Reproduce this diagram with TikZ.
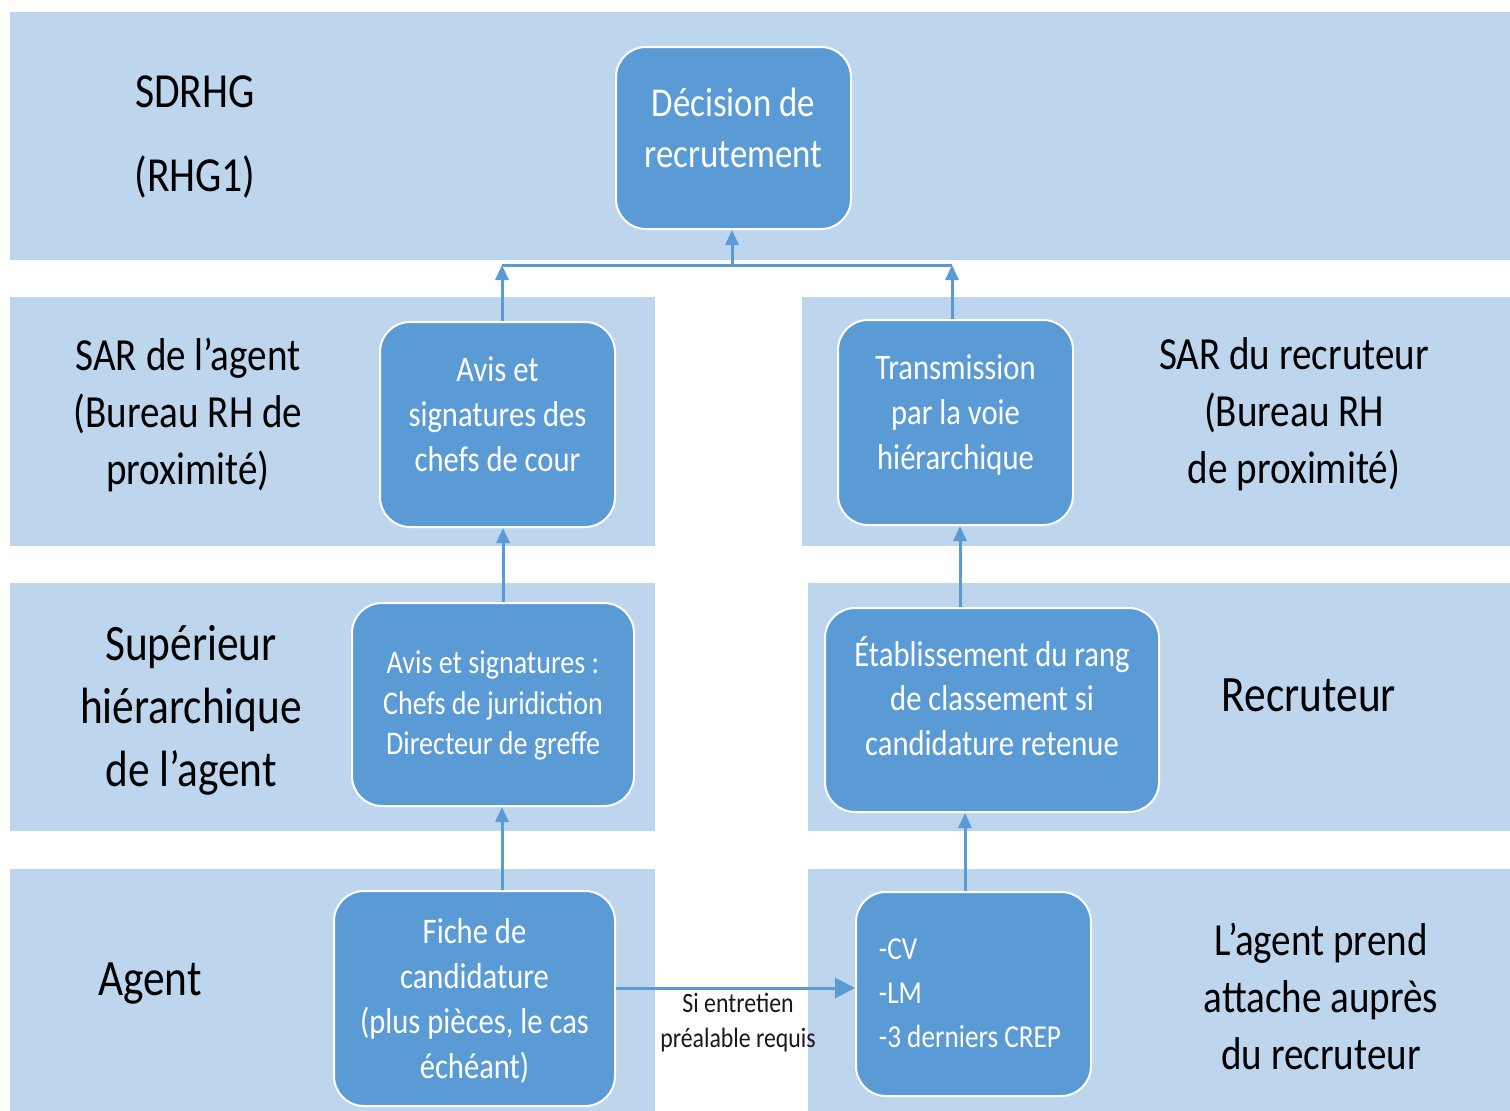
\documentclass[tikz,border=0pt]{standalone}
\usepackage{fontspec}
\setmainfont[FakeStretch=0.85]{Carlito}
\usetikzlibrary{arrows.meta}
\definecolor{band}{RGB}{189,214,238}
\definecolor{boxc}{RGB}{91,155,213}
\tikzset{
  bandrect/.style={fill=band, draw=none},
  box/.style={fill=boxc, draw=white, line width=2pt, rounded corners=30pt, inner sep=0pt},
  boxtxt/.style={text=white, align=center, inner sep=0pt},
  lab/.style={text=black, align=center, inner sep=0pt},
  conn/.style={draw=boxc, line width=3pt},
  arr/.style={conn, -{Triangle[length=15pt,width=13pt]}},
  bigarr/.style={conn, -{Triangle[length=20pt,width=20pt]}},
}
\newcommand{\fntbig}{\fontsize{46}{57}\selectfont}
\newcommand{\fnthuge}{\fontsize{51}{63}\selectfont}
\newcommand{\fntbox}{\fontsize{36}{45}\selectfont}
\newcommand{\fntdec}{\fontsize{41}{51}\selectfont}
\newcommand{\fntsmall}{\fontsize{28}{35}\selectfont}
\begin{document}
\begin{tikzpicture}[x=1pt,y=-1pt]
\useasboundingbox (0,0) rectangle (1510,1111);
\fill[white] (0,0) rectangle (1510,1111);
% bands
\path[bandrect] (10,12) rectangle (1510,260);
\path[bandrect] (10,297) rectangle (655,546);
\path[bandrect] (802,297) rectangle (1510,546);
\path[bandrect] (10,583) rectangle (655,831);
\path[bandrect] (808,583) rectangle (1510,831);
\path[bandrect] (10,869) rectangle (655,1111);
\path[bandrect] (808,869) rectangle (1510,1111);
% row labels
\node[lab, font=\fontsize{49}{57}\selectfont] (sdrhg) at (195,92) {SDRHG};
\node[lab, font=\fontsize{49}{57}\selectfont] (rhg) at (195,177) {(RHG1)};
\node[lab, font=\fntbig] (saragent) at (188,415) {SAR de l’agent\\(Bureau RH de\\proximité)};
\node[lab, font=\fnthuge] (sup) at (191,710) {Supérieur\\hiérarchique\\de l’agent};
\node[lab, font=\fnthuge] (agent) at (150,984) {Agent};
\node[lab, font=\fntbig] (sarrec) at (1294,414) {SAR du recruteur\\(Bureau RH\\de proximité)};
\node[lab, font=\fnthuge] (recr) at (1309,695) {Recruteur};
\node[lab, font=\fntbig] (attache) at (1321,996) {L’agent prend\\attache auprès\\du recruteur};
% boxes
\node[box, minimum width=235pt, minimum height=182pt] (dec) at (733.5,138) {};
\node[box, minimum width=235pt, minimum height=205pt] (av1) at (497.5,424.5) {};
\node[box, minimum width=235pt, minimum height=205pt] (tr) at (955.5,422.5) {};
\node[box, minimum width=282pt, minimum height=203pt] (av2) at (493,704.5) {};
\node[box, minimum width=334pt, minimum height=204pt] (est) at (992,710) {};
\node[box, minimum width=281pt, minimum height=215pt] (fiche) at (474.5,998.5) {};
\node[box, minimum width=235pt, minimum height=204pt] (cv) at (973.5,994) {};
% box texts
\node[boxtxt, font=\fntdec] (dect) at (733.5,128) {Décision de\\recrutement};
\node[boxtxt, font=\fntbox] (av1t) at (497.5,414.5) {Avis et\\signatures des\\chefs de cour};
\node[boxtxt, font=\fntbox] (trt) at (955.5,415) {Transmission\\par la voie\\hiérarchique};
\node[boxtxt, font=\fontsize{33}{40.5}\selectfont] (av2t) at (493,705.5) {Avis et signatures :\\Chefs de juridiction\\Directeur de greffe};
\node[boxtxt, font=\fontsize{36}{44.5}\selectfont] (estt) at (992,696) {Établissement du rang\\de classement si\\candidature retenue};
\node[boxtxt, font=\fntbox] (fichet) at (474.5,1001) {Fiche de\\candidature\\(plus pièces, le cas\\échéant)};
\node[boxtxt, font=\fontsize{32}{44}\selectfont] (cvt) at (970,995) {\begin{tabular}{@{}l@{}}-CV\\-LM\\-3 derniers CREP\end{tabular}};
\node[lab, font=\fntsmall, text=black!90] (lbl) at (738,1023) {Si entretien\\préalable requis};
% connector coordinates
\coordinate (cL) at (502,0);
\coordinate (cL2) at (503,0);
\coordinate (jL) at (502,265);
\coordinate (jM) at (732,265);
\coordinate (jR) at (952,265);
\coordinate (cR1) at (960,0);
\coordinate (cR2) at (965,0);
\coordinate (hy) at (0,988);
% connectors
\draw[arr] (fiche.north -| cL) -- (av2.south -| cL);
\draw[arr] (av2.north -| cL2) -- (av1.south -| cL2);
\draw[arr] (av1.north -| jL) -- (jL);
\draw[arr] (tr.north -| jR) -- (jR);
\draw[conn] (jL) -- (jR);
\draw[arr] (jM) -- (dec.south -| jM);
\draw[arr] (est.north -| cR1) -- (tr.south -| cR1);
\draw[arr] (cv.north -| cR2) -- (est.south -| cR2);
\draw[bigarr] (fiche.east |- hy) -- (cv.west |- hy);
\end{tikzpicture}
\end{document}
